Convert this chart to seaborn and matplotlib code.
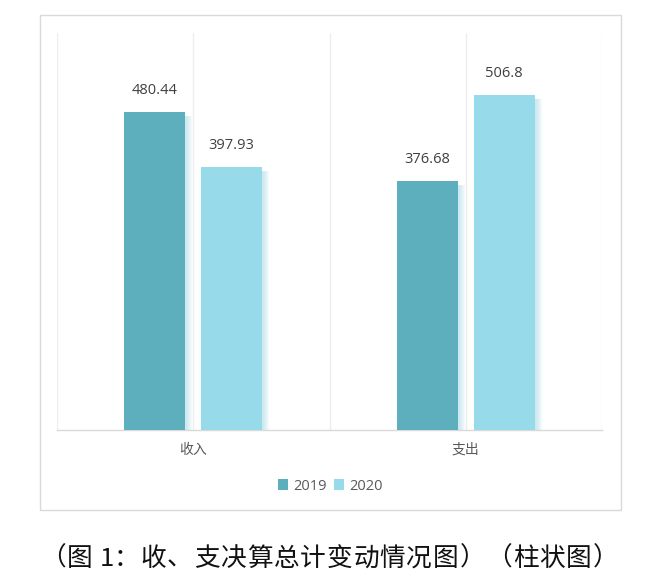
import pandas as pd
import matplotlib
matplotlib.use("Agg")
import matplotlib.pyplot as plt
from matplotlib.patches import Rectangle
import seaborn as sns

# ---- data ----
categories = ["收入", "支出"]
years = ["2019", "2020"]
values_2019 = [480.44, 376.68]
values_2020 = [397.93, 506.8]
caption = "（图 1：收、支决算总计变动情况图）（柱状图）"

df = pd.DataFrame({
    "类别": categories * 2,
    "年份": [years[0]] * 2 + [years[1]] * 2,
    "金额": values_2019 + values_2020,
})

sns.set_theme(style="white")
plt.rcParams["font.family"] = ["Noto Sans CJK SC", "DejaVu Sans"]

W, H = 659, 588
fig = plt.figure(figsize=(W / 100, H / 100), dpi=100)

# outer frame of the chart
fig.patches.append(Rectangle((40 / W, 1 - 510 / H), 581 / W, 495 / H,
                             transform=fig.transFigure, fill=False,
                             edgecolor="#D9D9D9", linewidth=1.0))

ax = fig.add_axes([57 / W, 1 - 430 / H, 545 / W, 397 / H])
palette = {"2019": "#5EAFBE", "2020": "#97DBEA"}
sns.barplot(data=df, x="类别", y="金额", hue="年份", order=categories,
            hue_order=years, palette=palette, width=0.564, gap=0.21,
            saturation=1, linewidth=0, ax=ax, zorder=3, legend=True)

ax.set_xlim(-0.5, 1.5)
ax.set_ylim(0, 600)

# soft shadow on the right of each bar
px = 2.0 / 545
py = 600 / 397
for p in list(ax.patches):
    if p.get_height() <= 0:
        continue
    x0 = p.get_x() + p.get_width()
    for k in range(7):
        ax.add_patch(Rectangle((x0, 0), (k + 1) * px, p.get_height() - 4 * py,
                               facecolor="#B5DFEA", edgecolor="none",
                               linewidth=0, alpha=0.14, zorder=2))

# value labels
for cont in ax.containers:
    ax.bar_label(cont, labels=[f"{v:g}" for v in cont.datavalues],
                 padding=10, fontsize=10.5, color="#404040",
                 family=["Open Sans", "DejaVu Sans"])

# vertical grid lines at category centres and borders
ax.set_xticks([0, 1])
ax.set_xticks([-0.5, 0.5, 1.5], minor=True)
ax.xaxis.grid(True, which="both", color="#EDEDED", linewidth=1.0)
ax.set_axisbelow(True)
ax.tick_params(axis="x", which="both", length=0, pad=9, labelsize=10,
               labelcolor="#595959")
ax.set_yticks([])
ax.set_xlabel("")
ax.set_ylabel("")
for s in ["top", "left", "right"]:
    ax.spines[s].set_visible(False)
ax.spines["bottom"].set_color("#D9D9D9")
ax.spines["bottom"].set_linewidth(1.0)

handles, labels = ax.get_legend_handles_labels()
ax.legend(handles, labels, loc="center", bbox_to_anchor=(330 / W, 1 - 486 / H),
          bbox_transform=fig.transFigure, ncol=2, frameon=False,
          handlelength=0.7, handleheight=0.7, handletextpad=0.35,
          columnspacing=0.5, labelcolor="#595959",
          prop={"family": ["Open Sans", "DejaVu Sans"], "size": 10.5})

# caption, laid out with wide character spacing
adv = {" ": 6, "1": 14}
x = 53.5
for i, ch in enumerate(caption):
    a = adv.get(ch, 26.6)
    if i > 0:
        prev = adv.get(caption[i - 1], 26.6)
        x += prev / 2 + a / 2
    fig.text(x / W, 1 - 559 / H, ch, ha="center", va="center", fontsize=18.5,
             color="#111111",
             family=["Noto Sans CJK SC", "DejaVu Sans"])

fig.savefig("out.png", dpi=100)
